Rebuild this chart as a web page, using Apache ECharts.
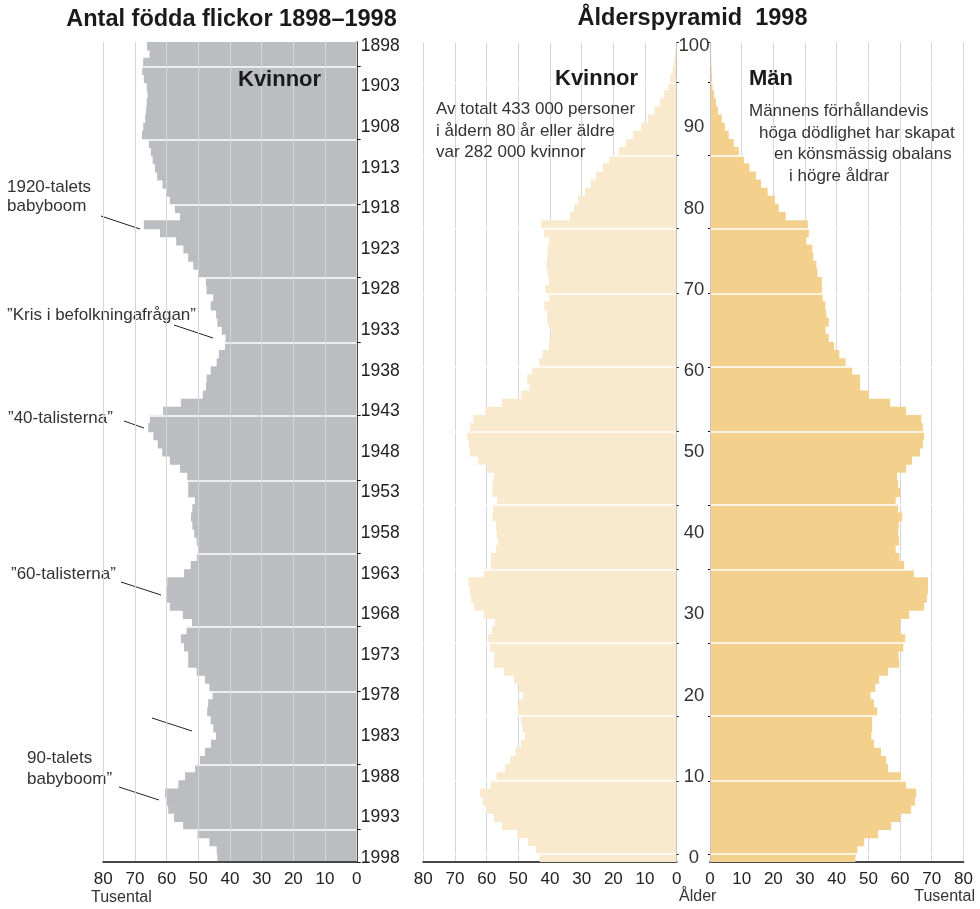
<!DOCTYPE html>
<html>
<head>
<meta charset="utf-8">
<script src="https://cdn.jsdelivr.net/npm/echarts@6/dist/echarts.min.js"></script>
<style>
  html, body { margin: 0; padding: 0; background: #fff; }
  #main { width: 980px; height: 909px; }
</style>
</head>
<body>
<div id="main"></div>
<script>
// antal födda flickor per år, tusental (1898 överst -> 1998 nederst)
var birthYears = [];
for (var y = 1898; y <= 1998; y++) birthYears.push(String(y));
var girlsBorn = [
  66.2, 65.4, 67.4, 67.7, 67.2, 66.3, 66.0, 66.3, 66.5, 66.8,
  67.4, 67.8, 65.6, 65.0, 64.4, 63.7, 63.0, 61.3, 60.0, 59.0,
  57.4, 55.8, 67.2, 62.1, 57.0, 54.7, 53.2, 51.6, 49.9, 47.6,
  47.4, 45.3, 46.1, 44.4, 44.0, 42.6, 41.4, 41.6, 43.5, 44.2,
  46.1, 47.4, 47.6, 48.6, 55.5, 61.1, 65.3, 65.8, 64.2, 62.8,
  61.4, 59.0, 55.8, 53.5, 53.2, 53.2, 51.1, 51.9, 52.3, 51.9,
  51.3, 50.5, 50.0, 50.5, 52.4, 54.5, 59.8, 60.0, 60.0, 59.0,
  54.9, 52.0, 53.7, 55.5, 54.5, 53.2, 53.2, 50.5, 47.9, 46.5,
  45.5, 46.9, 47.2, 46.1, 45.3, 44.4, 46.0, 47.9, 49.5, 51.0,
  54.2, 56.3, 60.5, 60.0, 59.5, 57.7, 54.8, 50.3, 46.5, 44.2,
  44.0
];

// ålderspyramid 1998, tusental per ålder 0..100
var ages = [];
for (var a = 0; a <= 100; a++) ages.push(String(a));
var women = [
  43.2, 44.4, 46.9, 50.3, 55.2, 57.7, 60.2, 61.2, 62.1, 58.6,
  56.9, 54.2, 52.6, 50.9, 49.2, 47.9, 48.6, 49.2, 50.2, 49.9,
  48.5, 49.7, 51.4, 54.5, 57.7, 57.5, 58.9, 59.5, 58.3, 57.4,
  60.8, 64.0, 64.9, 65.3, 65.8, 60.8, 58.6, 58.6, 57.1, 56.4,
  56.9, 57.1, 58.2, 58.0, 56.7, 58.2, 58.1, 57.7, 59.8, 62.7,
  65.3, 65.6, 66.1, 65.3, 64.2, 60.4, 55.1, 49.1, 46.5, 47.2,
  45.6, 43.4, 42.3, 40.4, 39.8, 39.5, 40.8, 40.9, 41.8, 40.2,
  41.5, 40.3, 40.7, 41.1, 40.9, 40.7, 40.3, 41.9, 42.8, 33.7,
  32.4, 31.1, 29.0, 27.1, 25.5, 23.3, 21.3, 18.2, 16.0, 13.7,
  11.2, 9.1, 7.0, 5.3, 4.0, 2.6, 2.0, 1.3, 0.8, 0.5,
  0.2
];
var men = [
  45.9, 46.5, 48.7, 53.1, 57.2, 60.0, 63.5, 64.7, 65.1, 61.9,
  60.3, 56.2, 55.6, 54.0, 51.8, 50.9, 51.2, 51.2, 52.8, 51.8,
  50.7, 52.2, 53.4, 56.2, 59.7, 59.5, 61.0, 61.6, 60.0, 60.0,
  62.9, 67.6, 68.5, 68.8, 68.8, 64.4, 61.3, 59.8, 58.6, 59.7,
  59.4, 59.6, 60.7, 59.4, 58.6, 60.0, 59.4, 59.1, 61.9, 63.8,
  66.3, 67.2, 67.6, 67.2, 66.7, 61.9, 56.9, 50.1, 47.4, 47.4,
  44.9, 42.8, 40.8, 39.2, 37.5, 36.5, 37.5, 36.7, 36.4, 35.6,
  35.3, 35.3, 33.9, 33.6, 32.6, 32.3, 30.4, 31.2, 30.9, 23.9,
  21.7, 20.5, 18.2, 16.1, 14.5, 12.5, 10.7, 9.1, 7.5, 5.9,
  4.7, 3.7, 2.5, 1.9, 1.3, 0.8, 0.6, 0.5, 0.4, 0.3,
  0.3
];

// vita skarvar i staplarna (kategoriindex där linjen ligger)
var birthBreaks = [3, 12, 20, 29, 37, 46, 54, 63, 72, 80, 89, 97];
var ageBreaks = [1, 10, 18, 27, 36, 44, 53, 61, 70, 78, 87, 96];

function inList(list) {
  return function (i) { return list.indexOf(i) >= 0; };
}

var font = '"Liberation Sans", Arial, sans-serif';
var ink = '#222';

function valueAxis(grid, inverse, z, splitColor) {
  return {
    gridIndex: grid, type: 'value', min: 0, max: 80, interval: 10,
    inverse: inverse, z: z,
    axisLine: { show: true, onZero: false, lineStyle: { color: '#484848', width: 2 } },
    axisTick: { show: false },
    axisLabel: { color: ink, fontSize: 17, fontFamily: font, margin: 9 },
    splitLine: { show: true, lineStyle: { color: splitColor, width: 1 } }
  };
}

function barSeries(xi, data, color) {
  return {
    type: 'bar', xAxisIndex: xi, yAxisIndex: xi, data: data,
    // lite bredare än bandet så att staplarna överlappar utan glapp
    barWidth: '112%', silent: true,
    itemStyle: { color: color }
  };
}

var chart = echarts.init(document.getElementById('main'));

var option = {
  animation: false,
  textStyle: { fontFamily: font },
  grid: [
    { left: 103.3, top: 42, width: 253.4, height: 820, outerBoundsMode: 'none' },
    { left: 423.3, top: 42, width: 253.4, height: 820, outerBoundsMode: 'none' },
    { left: 710, top: 42, width: 253.4, height: 820, outerBoundsMode: 'none' }
  ],
  xAxis: [
    valueAxis(0, true, 4, '#d5d6d8'),
    valueAxis(1, true, 0, '#d6d6d6'),
    valueAxis(2, false, 0, '#d6d6d6')
  ],
  yAxis: [
    {
      gridIndex: 0, type: 'category', data: birthYears, inverse: true,
      position: 'right', z: 3,
      axisLine: { show: true, lineStyle: { color: '#111', width: 1.5 } },
      axisTick: { show: true, interval: inList(birthBreaks), length: 4, lineStyle: { color: '#111' } },
      axisLabel: {
        interval: function (i) { return i % 5 === 0; },
        color: ink, fontSize: 17.5, fontFamily: font, margin: 4
      },
      splitLine: { show: true, interval: inList(birthBreaks), lineStyle: { color: '#fff', width: 1.5 } }
    },
    {
      gridIndex: 1, type: 'category', data: ages, position: 'right', z: 3,
      axisLine: { show: true, lineStyle: { color: '#c4c4c4', width: 1 } },
      axisTick: { show: true, interval: inList(ageBreaks), length: 2, lineStyle: { color: '#111' } },
      axisLabel: { show: false },
      splitLine: { show: true, interval: inList(ageBreaks), lineStyle: { color: '#fff', width: 1.5 } }
    },
    {
      gridIndex: 2, type: 'category', data: ages, position: 'left', z: 3,
      axisLine: { show: true, lineStyle: { color: '#c4c4c4', width: 1 } },
      axisTick: { show: true, interval: inList(ageBreaks), length: 2, lineStyle: { color: '#111' } },
      axisLabel: {
        interval: function (i) { return i % 10 === 0; },
        color: '#333', fontSize: 18.5, fontFamily: font, margin: 16, align: 'center'
      },
      splitLine: { show: true, interval: inList(ageBreaks), lineStyle: { color: '#fff', width: 1.5 } }
    }
  ],
  series: [
    barSeries(0, girlsBorn, '#bcbdc1'),
    barSeries(1, women, '#f9eacd'),
    barSeries(2, men, '#f3d18d')
  ],
  graphic: [
    { type: 'text', style: { text: 'Antal födda flickor 1898–1998', x: 231.5, y: 20, textAlign: 'center', textVerticalAlign: 'middle', font: 'bold 23.5px ' + font, fill: '#1a1a1a' } },
    { type: 'text', style: { text: 'Ålderspyramid  1998', x: 692.5, y: 19, textAlign: 'center', textVerticalAlign: 'middle', font: 'bold 23.5px ' + font, fill: '#1a1a1a' } },

    { type: 'text', z: 10, style: { text: 'Kvinnor', x: 238, y: 80, textVerticalAlign: 'middle', font: 'bold 22px ' + font, fill: '#1a1a1a' } },
    { type: 'text', z: 10, style: { text: 'Kvinnor', x: 555, y: 79, textVerticalAlign: 'middle', font: 'bold 22px ' + font, fill: '#1a1a1a' } },
    { type: 'text', z: 10, style: { text: 'Män', x: 749, y: 79, textVerticalAlign: 'middle', font: 'bold 22px ' + font, fill: '#1a1a1a' } },

    { type: 'text', z: 10, style: { text: 'Av totalt 433 000 personer', x: 436, y: 109.5, textVerticalAlign: 'middle', font: '17px ' + font, fill: '#333' } },
    { type: 'text', z: 10, style: { text: 'i åldern 80 år eller äldre', x: 436, y: 131, textVerticalAlign: 'middle', font: '17px ' + font, fill: '#333' } },
    { type: 'text', z: 10, style: { text: 'var 282 000 kvinnor', x: 436, y: 152.5, textVerticalAlign: 'middle', font: '17px ' + font, fill: '#333' } },

    { type: 'text', z: 10, style: { text: 'Männens förhållandevis', x: 749, y: 111, textVerticalAlign: 'middle', font: '17px ' + font, fill: '#333' } },
    { type: 'text', z: 10, style: { text: 'höga dödlighet har skapat', x: 759, y: 133, textVerticalAlign: 'middle', font: '17px ' + font, fill: '#333' } },
    { type: 'text', z: 10, style: { text: 'en könsmässig obalans', x: 774, y: 154.5, textVerticalAlign: 'middle', font: '17px ' + font, fill: '#333' } },
    { type: 'text', z: 10, style: { text: 'i högre åldrar', x: 789, y: 176, textVerticalAlign: 'middle', font: '17px ' + font, fill: '#333' } },

    { type: 'text', style: { text: '1920-talets', x: 7, y: 187, textVerticalAlign: 'middle', font: '17px ' + font, fill: '#333' } },
    { type: 'text', style: { text: 'babyboom', x: 7, y: 206, textVerticalAlign: 'middle', font: '17px ' + font, fill: '#333' } },
    { type: 'text', style: { text: '”Kris i befolkningafrågan”', x: 7, y: 315, textVerticalAlign: 'middle', font: '17px ' + font, fill: '#333' } },
    { type: 'text', style: { text: '”40-talisterna”', x: 8, y: 418, textVerticalAlign: 'middle', font: '17px ' + font, fill: '#333' } },
    { type: 'text', style: { text: '”60-talisterna”', x: 11, y: 574, textVerticalAlign: 'middle', font: '17px ' + font, fill: '#333' } },
    { type: 'text', style: { text: '90-talets', x: 27, y: 758, textVerticalAlign: 'middle', font: '17px ' + font, fill: '#333' } },
    { type: 'text', style: { text: 'babyboom”', x: 27, y: 779, textVerticalAlign: 'middle', font: '17px ' + font, fill: '#333' } },

    { type: 'line', shape: { x1: 101, y1: 216, x2: 140, y2: 229 }, style: { stroke: '#222', lineWidth: 1 } },
    { type: 'line', shape: { x1: 174, y1: 325, x2: 213, y2: 338 }, style: { stroke: '#222', lineWidth: 1 } },
    { type: 'line', shape: { x1: 124, y1: 421, x2: 144, y2: 428 }, style: { stroke: '#222', lineWidth: 1 } },
    { type: 'line', shape: { x1: 121, y1: 582, x2: 161, y2: 595 }, style: { stroke: '#222', lineWidth: 1 } },
    { type: 'line', shape: { x1: 152, y1: 718, x2: 192, y2: 731 }, style: { stroke: '#222', lineWidth: 1 } },
    { type: 'line', shape: { x1: 119, y1: 787, x2: 159, y2: 800 }, style: { stroke: '#222', lineWidth: 1 } },

    { type: 'text', style: { text: 'Tusental', x: 91, y: 898, textVerticalAlign: 'middle', font: '16px ' + font, fill: '#333' } },
    { type: 'text', style: { text: 'Ålder', x: 679, y: 897, textVerticalAlign: 'middle', font: '16px ' + font, fill: '#333' } },
    { type: 'text', style: { text: 'Tusental', x: 975, y: 897, textAlign: 'right', textVerticalAlign: 'middle', font: '16px ' + font, fill: '#333' } }
  ]
};

chart.setOption(option);
</script>
</body>
</html>
